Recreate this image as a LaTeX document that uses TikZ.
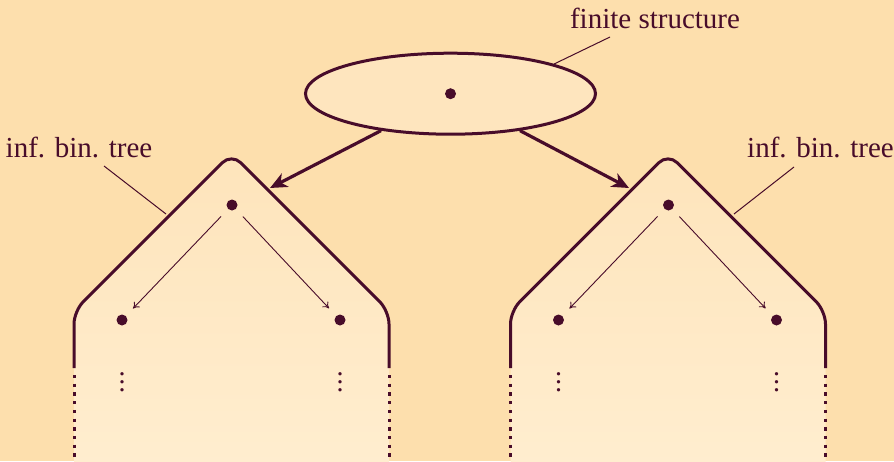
\documentclass[tikz,border=0pt]{standalone}
\usepackage{fontspec}
\setmainfont{Liberation Serif}
\usetikzlibrary{arrows.meta,shapes.geometric}

\definecolor{ink}{RGB}{72,12,42}
\definecolor{bgcol}{RGB}{253,223,173}
\definecolor{ellcol}{RGB}{254,229,190}
\definecolor{filltop}{RGB}{254,228,187}
\definecolor{fillbot}{RGB}{255,238,208}

\begin{document}
\begin{tikzpicture}[x=0.5pt,y=-0.5pt,>=Stealth,
    dot/.style={circle,fill=ink,inner sep=0pt,minimum size=5.5pt},
    lab/.style={text=ink,font=\fontsize{14.5}{16}\selectfont,inner sep=0pt,anchor=base},
    vdot/.style={text=ink,font=\fontsize{14}{16}\selectfont,inner sep=0pt,anchor=base},
    edge/.style={draw=ink,line width=0.45pt,-{To[length=3pt,width=4pt]},shorten <=5pt,shorten >=5pt},
    big/.style={draw=ink,line width=1.6pt,-{Stealth[length=8.5pt,width=7.5pt,inset=2.5pt]}},
    leader/.style={draw=ink,line width=0.5pt}]
  \fill[bgcol] (0,0) rectangle (894,461);
  \useasboundingbox (0,0) rectangle (894,461);

  % the two trees
  \foreach \t/\cx in {l/231.5,r/668} {
    \shade[top color=filltop,bottom color=fillbot,rounded corners=6.5pt]
      ({\cx-157.5},480) -- ({\cx-157.5},311) -- (\cx,153.5) -- ({\cx+157.5},311) -- ({\cx+157.5},480) -- cycle;
    \draw[ink,line width=1.5pt,rounded corners=6.5pt]
      ({\cx-157.5},368) -- ({\cx-157.5},311) -- (\cx,153.5) -- ({\cx+157.5},311) -- ({\cx+157.5},368);
    \draw[ink,line width=1.5pt,dash pattern=on 1.65pt off 2.7pt] ({\cx-157.5},375) -- ({\cx-157.5},480);
    \draw[ink,line width=1.5pt,dash pattern=on 1.65pt off 2.7pt] ({\cx+157.5},375) -- ({\cx+157.5},480);
    \node[dot] (\t root) at ({\cx+0.5},205) {};
    \node[dot] (\t left) at ({\cx-109.5},320) {};
    \node[dot] (\t right) at ({\cx+108.5},320) {};
    \node[vdot] (\t vl) at ({\cx-109.5},391.5) {$\vdots$};
    \node[vdot] (\t vr) at ({\cx+108.5},391.5) {$\vdots$};
    \draw[edge] (\t root) -- (\t left);
    \draw[edge] (\t root) -- (\t right);
  }

  % finite part
  \node[ellipse,draw=ink,line width=1.5pt,fill=ellcol,minimum width=145pt,minimum height=40.5pt,inner sep=0pt] (fs) at (450.5,93.7) {};
  \node[dot] (fsc) at (fs.center) {};
  \coordinate (lhit) at (270,188);
  \coordinate (rhit) at (629,188);
  \draw[big] (fs.208) -- (lhit);
  \draw[big] (fs.332) -- (rhit);

  % labels
  \node[lab] (fslab) at (655,28) {finite structure};
  \node[lab] (ltlab) at (79,157) {inf. bin. tree};
  \node[lab] (rtlab) at (820.5,157) {inf. bin. tree};
  \coordinate (fsend) at (610,37);
  \coordinate (ltend) at (104,166);
  \coordinate (lthit) at (166,214);
  \coordinate (rtend) at (794,167);
  \coordinate (rthit) at (734,214);
  \draw[leader] (fsend) -- (fs.16);
  \draw[leader] (ltend) -- (lthit);
  \draw[leader] (rtend) -- (rthit);
\end{tikzpicture}
\end{document}
